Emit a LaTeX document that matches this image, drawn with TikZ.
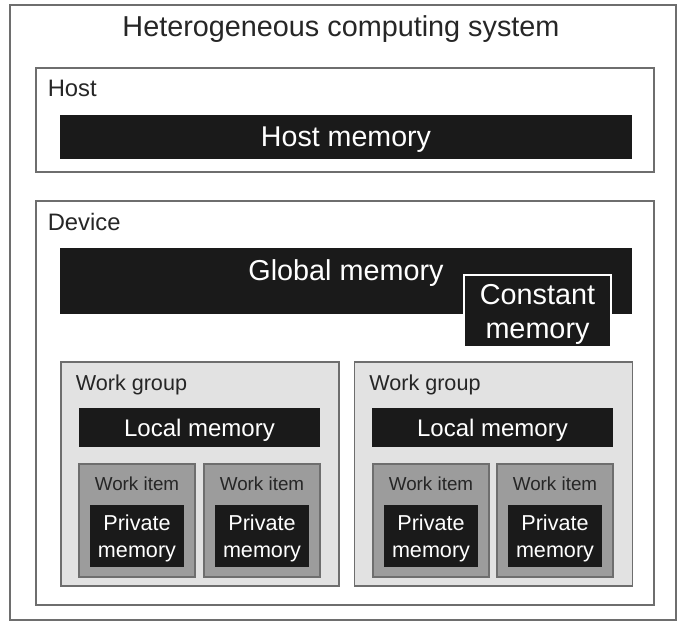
\documentclass[tikz,border=0pt]{standalone}
\usepackage{fontspec}
\setmainfont{Liberation Sans}
\usetikzlibrary{positioning}

\definecolor{memblack}{HTML}{1A1A1A}
\definecolor{framegray}{HTML}{6E6E6E}
\definecolor{groupfill}{HTML}{E2E2E2}
\definecolor{itemfill}{HTML}{9C9C9C}

\begin{document}
\begin{tikzpicture}[
    x=0.5pt, y=-0.5pt,
    frame/.style={draw=framegray, line width=0.6pt, fill=white, inner sep=0pt},
    mem/.style={fill=memblack, text=white, inner sep=0pt, align=center, text depth=0pt},
    group/.style={frame, fill=groupfill},
    item/.style={frame, fill=itemfill},
    tag/.style={anchor=north west, inner sep=0pt, text=black!85},
]

    % fixes the page size
    \path[use as bounding box, fill=white] (0,0) rectangle (685,625);

    %==================== SYSTEM ====================
    \node[frame, minimum width=333pt, minimum height=307.5pt] (sys) at (343,312.5) {};
    \node[font=\fontsize{14.4}{16}\selectfont, text=black!85] (systitle) at (341,29)
        {Heterogeneous computing system};

    %==================== HOST ====================
    \node[frame, minimum width=309pt, minimum height=52pt] (host) at (345,120) {};
    \node[tag, font=\fontsize{11.9}{14}\selectfont] (hostlbl)
        at ([xshift=6pt, yshift=-6pt]host.north west) {Host};
    \node[mem, minimum width=286pt, minimum height=22pt,
          font=\fontsize{14.3}{16}\selectfont] (hostmem) at (346,137) {Host memory};

    %==================== DEVICE ====================
    \node[frame, minimum width=309pt, minimum height=202pt] (dev) at (345,403) {};
    \node[tag, font=\fontsize{11.9}{14}\selectfont] (devlbl)
        at ([xshift=6pt, yshift=-6pt]dev.north west) {Device};
    \node[mem, minimum width=286pt, minimum height=33pt] (glob) at (346,281) {};
    \node[text=white, font=\fontsize{14.4}{16}\selectfont, text depth=0pt] (globlbl)
        at (346,270) {Global memory};
    \node[mem, draw=white, line width=1pt, minimum width=73.5pt, minimum height=36pt,
          font=\fontsize{14.4}{17}\selectfont] (const) at (537.5,311) {Constant\\memory};

    %==================== WORK GROUPS ====================
    \foreach \g/\gx/\lx/\ia/\ib in {1/200/199.5/137/262, 2/493.5/492.5/431/555}{
        \node[group, minimum width=139pt, minimum height=112pt] (wg\g) at (\gx,474) {};
        \node[tag, font=\fontsize{10.8}{13}\selectfont] (wglbl\g)
            at ([xshift=7.5pt, yshift=-6.5pt]wg\g.north west) {Work group};
        \node[mem, minimum width=120.5pt, minimum height=19.5pt,
              font=\fontsize{12}{14}\selectfont] (local\g) at (\lx,427.5) {Local memory};
        % work items with their private memory
        \foreach \i/\ix in {a/\ia, b/\ib}{
            \node[item, minimum width=58pt, minimum height=56.5pt] (wi\g\i) at (\ix,520.5) {};
            \node[font=\fontsize{9.4}{11}\selectfont, text=black!85, anchor=north, inner sep=0pt]
                (wilbl\g\i) at ([yshift=-6.5pt]wi\g\i.north) {Work item};
            \node[mem, minimum width=47pt, minimum height=31pt,
                  font=\fontsize{10.8}{13.8}\selectfont] (priv\g\i) at (\ix,536)
                {Private\\memory};
        }
    }

\end{tikzpicture}
\end{document}
